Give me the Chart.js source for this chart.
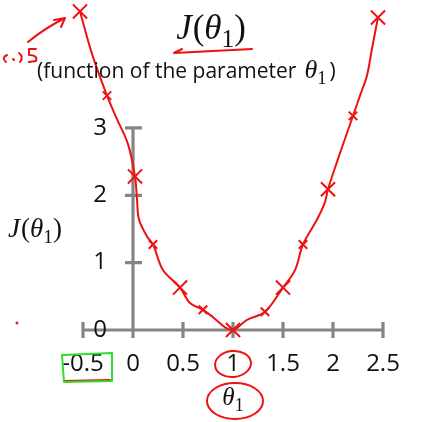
<!DOCTYPE html>
<html>
<head>
<meta charset="utf-8">
<script src="https://cdn.jsdelivr.net/npm/chart.js@4.4.1/dist/chart.umd.min.js"></script>
<style>
  html, body { margin: 0; padding: 0; background: #ffffff; }
  #c { display: block; }
</style>
</head>
<body>
<canvas id="c" width="434" height="422"></canvas>
<script>
// ---- data ----
const curveTheta = [-0.53, -0.41, -0.26, -0.16, -0.05, 0.02, 0.04, 0.06, 0.14, 0.20, 0.30, 0.47, 0.57, 0.70, 0.80, 0.92, 1.00, 1.14, 1.32, 1.50, 1.62, 1.70, 1.84, 1.92, 1.95, 2.05, 2.12, 2.20, 2.27, 2.34, 2.39, 2.45];
const curveJ     = [4.73, 4.10, 3.48, 3.13, 2.76, 2.28, 1.94, 1.64, 1.39, 1.27, 0.89, 0.63, 0.40, 0.30, 0.19, 0.04, 0.00, 0.15, 0.27, 0.63, 0.89, 1.27, 1.64, 1.90, 2.09, 2.54, 2.84, 3.18, 3.48, 3.78, 4.18, 4.64];
const markTheta  = [-0.53, -0.26, 0.02, 0.20, 0.47, 0.70, 1.00, 1.32, 1.50, 1.70, 1.95, 2.20, 2.45];
const markJ      = [4.73, 3.48, 2.28, 1.27, 0.63, 0.30, 0.00, 0.27, 0.63, 1.27, 2.09, 3.18, 4.64];
const xTicks     = [-0.5, 0, 0.5, 1, 1.5, 2, 2.5];
const yTicks     = [0, 1, 2, 3];
const subtitleText = "(function of the parameter";

const RED = '#ee1111';
const GRAY = '#858585';
const SERIF = '"Liberation Serif", "DejaVu Serif", serif';
const SANS = '"Open Sans", "Liberation Sans", sans-serif';

// draw math like J(θ1): italic letters, upright digits/parens, subscript 1
function drawMath(ctx, x, y, size, parts, align) {
  const pieces = parts.map(p => {
    const s = p.sub ? size * 0.72 : size;
    const font = (p.it ? 'italic ' : '') + s + 'px ' + SERIF;
    ctx.font = font;
    return { t: p.t, font, w: ctx.measureText(p.t).width + (p.kern || 0), dy: p.sub ? size * 0.22 : 0 };
  });
  let total = pieces.reduce((a, p) => a + p.w, 0);
  let cx = align === 'center' ? x - total / 2 : x;
  ctx.textBaseline = 'alphabetic';
  ctx.textAlign = 'left';
  for (const p of pieces) {
    ctx.font = p.font;
    ctx.fillText(p.t, cx, y + p.dy);
    cx += p.w;
  }
  return total;
}
function jTheta() {
  return [{ t: 'J', it: true, kern: 1 }, { t: '(' }, { t: '\u03b8', it: true }, { t: '1', sub: true }, { t: ')' }];
}

const axesPlugin = {
  id: 'axesDraw',
  beforeDatasetsDraw(chart) {
    const { ctx, scales: { x, y } } = chart;
    const x0 = x.getPixelForValue(0), y0 = y.getPixelForValue(0);
    ctx.save();
    ctx.strokeStyle = GRAY;
    ctx.lineWidth = 3.2;
    ctx.lineCap = 'butt';
    ctx.beginPath();
    ctx.moveTo(x.getPixelForValue(xTicks[0]), y0);
    ctx.lineTo(x.getPixelForValue(xTicks[xTicks.length - 1]), y0);
    ctx.moveTo(x0, y0 + 7);
    ctx.lineTo(x0, y.getPixelForValue(yTicks[yTicks.length - 1]));
    for (const v of xTicks) {
      const px = x.getPixelForValue(v);
      ctx.moveTo(px, y0 - 8); ctx.lineTo(px, y0 + 8);
    }
    for (const v of yTicks.slice(1)) {
      const py = y.getPixelForValue(v);
      ctx.moveTo(x0 - 8, py); ctx.lineTo(x0 + 9, py);
    }
    ctx.stroke();
    // y tick labels
    ctx.fillStyle = '#111111';
    ctx.font = '24px ' + SANS;
    ctx.textAlign = 'center';
    ctx.textBaseline = 'middle';
    for (const v of yTicks) {
      ctx.fillText(String(v), x0 - 33, y.getPixelForValue(v));
    }
    ctx.restore();
  }
};

const textPlugin = {
  id: 'texts',
  afterDraw(chart) {
    const { ctx, scales: { x, y } } = chart;
    ctx.save();
    ctx.fillStyle = '#111111';
    // title
    drawMath(ctx, 211, 39, 35, jTheta(), 'center');
    // subtitle
    ctx.font = '21px ' + SANS;
    ctx.textBaseline = 'alphabetic';
    ctx.textAlign = 'left';
    ctx.fillText(subtitleText, 37, 78);
    const w = ctx.measureText(subtitleText).width;
    const w2 = drawMath(ctx, 37 + w + 8, 78, 26, [{ t: '\u03b8', it: true }, { t: '1', sub: true }], 'left');
    ctx.font = '21px ' + SANS;
    ctx.fillText(')', 37 + w + 8 + w2 + 3, 78);
    // y label
    drawMath(ctx, 35, 237, 27, jTheta(), 'center');
    // x label
    drawMath(ctx, x.getPixelForValue(1), 405, 25, [{ t: '\u03b8', it: true }, { t: '1', sub: true }], 'center');
    ctx.restore();

    // hand-drawn annotations
    ctx.save();
    ctx.lineCap = 'round';
    ctx.lineJoin = 'round';
    ctx.strokeStyle = RED;
    ctx.lineWidth = 2;
    // arrow at top left
    ctx.beginPath();
    ctx.moveTo(28, 42); ctx.quadraticCurveTo(45, 28, 65, 18);
    ctx.moveTo(65, 18); ctx.lineTo(54, 20);
    ctx.moveTo(65, 18); ctx.lineTo(61, 27);
    // scribble
    ctx.moveTo(7, 55); ctx.quadraticCurveTo(1, 58, 6, 62);
    ctx.moveTo(13, 59); ctx.lineTo(14, 60);
    ctx.moveTo(19, 53); ctx.quadraticCurveTo(24, 57, 20, 62);
    ctx.moveTo(36, 49); ctx.lineTo(29, 49); ctx.lineTo(29, 55);
    ctx.quadraticCurveTo(38, 55, 36, 61); ctx.lineTo(29, 62);
    // title underline with arrow tip
    ctx.moveTo(252, 49); ctx.lineTo(174, 53);
    ctx.moveTo(174, 53); ctx.lineTo(182, 49);
    ctx.stroke();
    // circle round tick label 1
    const p1 = x.getPixelForValue(1);
    ctx.beginPath();
    ctx.ellipse(p1, 364, 18, 13, -0.1, 0, Math.PI * 2);
    ctx.stroke();
    // circle round theta1
    ctx.beginPath();
    ctx.ellipse(p1 + 2, 401, 28, 18, 0, 0, Math.PI * 2);
    ctx.stroke();
    // red underline under -0.5
    const pm = x.getPixelForValue(-0.5);
    ctx.beginPath();
    ctx.moveTo(pm - 19, 381); ctx.lineTo(pm + 27, 380);
    ctx.stroke();
    // green box
    ctx.strokeStyle = '#2fdc2f';
    ctx.beginPath();
    ctx.moveTo(pm - 20, 355); ctx.lineTo(pm + 29, 353); ctx.lineTo(pm + 29, 381);
    ctx.lineTo(pm - 19, 382); ctx.lineTo(pm - 21, 355);
    ctx.stroke();
    // pink dot
    ctx.fillStyle = '#cc2266';
    ctx.beginPath(); ctx.arc(17, 323, 1.5, 0, Math.PI * 2); ctx.fill();
    ctx.restore();
  }
};

new Chart(document.getElementById('c'), {
  type: 'scatter',
  data: {
    datasets: [
      {
        label: 'curve',
        data: curveTheta.map((t, i) => ({ x: t, y: curveJ[i] })),
        showLine: true,
        borderColor: RED,
        borderWidth: 2,
        pointRadius: 0,
        tension: 0.35,
        clip: false
      },
      {
        label: 'marks',
        data: markTheta.map((t, i) => ({ x: t, y: markJ[i] })),
        showLine: false,
        pointStyle: 'crossRot',
        pointRadius: c => (c.dataIndex % 2 === 0 ? 10 : 6),
        borderColor: RED,
        backgroundColor: RED,
        pointBorderWidth: 2,
        borderWidth: 2,
        clip: false
      }
    ]
  },
  options: {
    responsive: false,
    animation: false,
    events: [],
    layout: { autoPadding: false, padding: { left: 83, right: 51, top: 0, bottom: 92 } },
    plugins: { legend: { display: false }, title: { display: false }, tooltip: { enabled: false } },
    scales: {
      x: {
        type: 'linear',
        min: -0.5, max: 2.5,
        position: { y: 0 },
        grid: { display: false },
        border: { display: false },
        afterBuildTicks: s => { s.ticks = xTicks.map(v => ({ value: v })); },
        ticks: { autoSkip: false, maxRotation: 0, padding: 12, color: '#111111',
                 font: { family: SANS, size: 24 }, callback: v => String(v) }
      },
      y: {
        type: 'linear',
        min: 0, max: 4.9,
        position: { x: 0 },
        grid: { display: false },
        border: { display: false },
        afterBuildTicks: s => { s.ticks = yTicks.map(v => ({ value: v })); },
        ticks: { display: false }
      }
    }
  },
  plugins: [axesPlugin, textPlugin]
});
</script>
</body>
</html>
